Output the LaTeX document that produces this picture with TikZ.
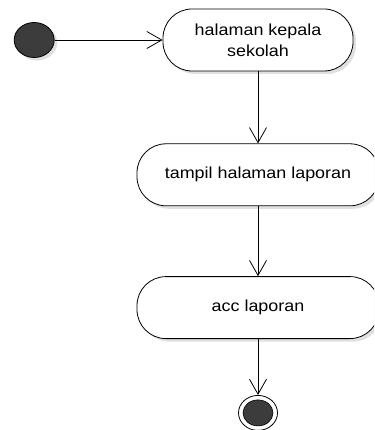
\documentclass[tikz,border=0pt]{standalone}
\usepackage{fontspec}
\setmainfont{Liberation Sans}[FakeStretch=1.12]
\usepackage{tikz}
\usetikzlibrary{shapes.geometric, arrows.meta, positioning, shadows}
\definecolor{nodedark}{HTML}{3C3C3C}
\definecolor{shadowgray}{HTML}{D8D8D8}
\tikzstyle{activity} = [rectangle, rounded corners=29pt, minimum height=62pt, text centered, align=center, draw=black, line width=0.8pt, fill=white, drop shadow={shadow xshift=3pt, shadow yshift=-3pt, fill=shadowgray, opacity=0.8}, font=\fontsize{16}{21}\selectfont]
\tikzstyle{startstate} = [ellipse, minimum width=40pt, minimum height=35pt, inner sep=0pt, draw=black, line width=0.8pt, fill=nodedark, drop shadow={shadow xshift=3pt, shadow yshift=-3pt, fill=shadowgray, opacity=0.8}]
\tikzstyle{endstate} = [ellipse, minimum width=39pt, minimum height=35pt, inner sep=0pt, draw=black, line width=0.8pt, fill=white]
\tikzstyle{arrow} = [line width=0.8pt, -{Straight Barb[length=15pt, width=17pt, line width=0.8pt]}]

\begin{document}
\begin{tikzpicture}[x=1pt, y=-1pt]
    \clip (0,0) rectangle (374,430);
    \node[activity, minimum width=190pt] (kepsek) at (258,40) {halaman kepala\\sekolah};
    \node[startstate, left=108pt of kepsek] (start) {};
    \node[activity, minimum width=242pt, below=72pt of kepsek] (tampil) {tampil halaman laporan};
    \node[activity, minimum width=242pt, below=70pt of tampil] (acc) {acc laporan};
    \node[endstate, below=56pt of acc] (end) {};
    \node[ellipse, minimum width=30pt, minimum height=26pt, inner sep=0pt, draw=black, line width=0.6pt, fill=nodedark] at (end.center) {};

    \draw[arrow] (start) -- (kepsek);
    \draw[arrow] (kepsek) -- (tampil);
    \draw[arrow] (tampil) -- (acc);
    \draw[arrow] (acc) -- (end);
\end{tikzpicture}
\end{document}
